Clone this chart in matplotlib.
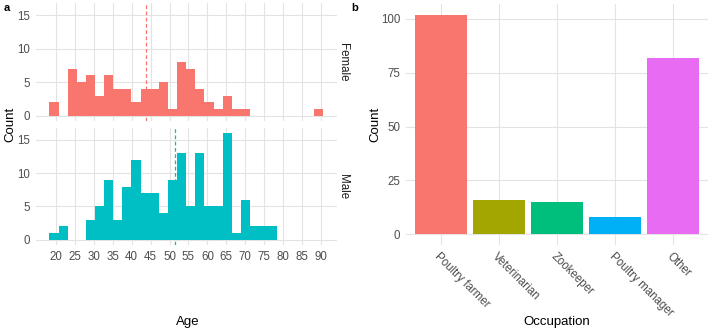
import numpy as np
import matplotlib
matplotlib.use("Agg")
from matplotlib import pyplot as plt

plt.rcParams['font.family'] = ['Liberation Sans', 'DejaVu Sans']

# age histogram, 30 bins
bin_start = 18.25
bin_width = 2.41
female_counts = [2, 0, 7, 5, 6, 3, 6, 4, 4, 2, 4, 4, 5, 1, 8, 7, 4, 2, 1, 3,
                 1, 1, 0, 0, 0, 0, 0, 0, 0, 1]
male_counts = [1, 2, 0, 0, 3, 5, 9, 3, 8, 12, 7, 7, 4, 9, 13, 5, 13, 5, 5, 16,
               1, 6, 2, 2, 2, 0, 0, 0, 0, 0]
female_mean = 43.9
male_mean = 51.4
age_ticks = list(range(20, 95, 5))

occupations = ['Poultry farmer', 'Veterinarian', 'Zookeeper', 'Poultry manager', 'Other']
occ_counts = [102, 16, 15, 8, 82]
occ_colors = ['#F8766D', '#A3A500', '#00BF7D', '#00B0F6', '#E76BF3']

W, H = 709, 332
fig = plt.figure(figsize=(W / 100, H / 100), dpi=100)


def px_axes(l, t, r, b):
    return fig.add_axes([l / W, 1 - b / H, (r - l) / W, (b - t) / H])


grid_col = '#E3E3E3'
tick_col = '#4D4D4D'


def style(ax):
    for s in ax.spines.values():
        s.set_visible(False)
    ax.tick_params(length=0, labelsize=8.3, labelcolor=tick_col, pad=4)
    ax.grid(True, color=grid_col, linewidth=0.8)
    ax.set_axisbelow(True)


edges = bin_start + bin_width * np.arange(len(female_counts))
lo = bin_start
hi = bin_start + bin_width * len(female_counts)
pad = 0.05 * (hi - lo)

panels = [('Female', female_counts, female_mean, '#F8766D', 3, 121),
          ('Male', male_counts, male_mean, '#00BFC4', 128, 245)]
for name, counts, mean, col, top, bot in panels:
    ax = px_axes(35.7, top, 336.7, bot)
    style(ax)
    ax.bar(edges, counts, width=bin_width, align='edge', color=col, linewidth=0)
    ax.axvline(mean, color=col, linestyle=(0, (3, 2)), linewidth=0.9)
    ax.set_xlim(lo - pad, hi + pad)
    ax.set_ylim(-0.8, 16.8)
    ax.set_yticks([0, 5, 10, 15])
    ax.set_xticks(age_ticks)
    if name == 'Female':
        ax.tick_params(labelbottom=False)
    fig.text(343 / W, 1 - (top + bot) / 2 / H, name, rotation=-90,
             ha='center', va='center', fontsize=8.3, color='#1A1A1A')

fig.text(10 / W, 1 - 124 / H, 'Count', rotation=90, ha='center', va='center', fontsize=9.5)
fig.text(188 / W, 1 - 322 / H, 'Age', ha='center', va='center', fontsize=9.5)

axb = px_axes(405.8, 3.7, 708, 245.3)
style(axb)
x = np.arange(1, len(occupations) + 1)
axb.bar(x, occ_counts, width=0.9, color=occ_colors, linewidth=0)
axb.set_xlim(0.4, len(occupations) + 0.6)
axb.set_ylim(-5.1, 107.1)
axb.set_yticks([0, 25, 50, 75, 100])
axb.set_xticks(x)
axb.set_xticklabels(occupations, rotation=-45, ha='left', va='top',
                    rotation_mode='anchor')
fig.text(375 / W, 1 - 124 / H, 'Count', rotation=90, ha='center', va='center', fontsize=9.5)
fig.text(557 / W, 1 - 322 / H, 'Occupation', ha='center', va='center', fontsize=9.5)

fig.text(4 / W, 1 - 8 / H, 'a', fontweight='bold', fontsize=8, ha='left', va='center')
fig.text(351 / W, 1 - 8 / H, 'b', fontweight='bold', fontsize=8, ha='left', va='center')

fig.savefig('out.png', dpi=100)
